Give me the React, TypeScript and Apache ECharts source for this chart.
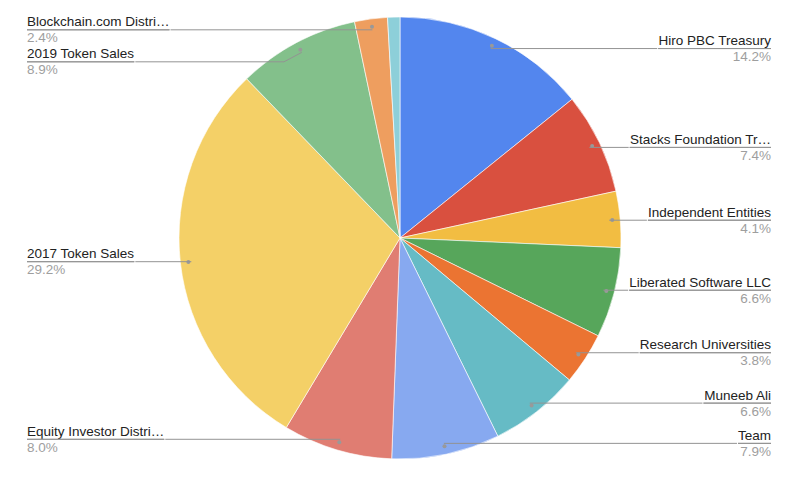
import React, { useEffect, useRef } from "react";
import * as echarts from "echarts";

const categories = [
  "Hiro PBC Treasury",
  "Stacks Foundation Tr…",
  "Independent Entities",
  "Liberated Software LLC",
  "Research Universities",
  "Muneeb Ali",
  "Team",
  "Equity Investor Distri…",
  "2017 Token Sales",
  "2019 Token Sales",
  "Blockchain.com Distri…",
  "Other",
];
const values = [14.2, 7.4, 4.1, 6.6, 3.8, 6.6, 7.9, 8.0, 29.2, 8.9, 2.4, 0.9];
const colors = [
  "#5386EE",
  "#D9503F",
  "#F2BD42",
  "#57A65B",
  "#EB7432",
  "#66BBC5",
  "#87A9F0",
  "#E07D72",
  "#F4D067",
  "#83C08B",
  "#EE9E5F",
  "#8DCFD9",
];
const labelled = [true, true, true, true, true, true, true, true, true, true, true, false];
const rightSide = [true, true, true, true, true, true, true, false, false, false, false, false];

const FONT = "'Liberation Sans', Arial, Helvetica, sans-serif";
const LINE = "#939393";

export default function App() {
  const ref = useRef<HTMLDivElement>(null);
  useEffect(() => {
    if (!ref.current) return;
    const chart = echarts.init(ref.current, undefined, { renderer: "svg" });
    const center = [400, 238];

    const mainData = categories.map((name, i) => ({
      name,
      value: values[i],
      itemStyle: { color: colors[i] },
    }));

    const dotData = categories.map((name, i) => ({
      name,
      value: values[i],
      label: { show: labelled[i] },
    }));

    const labelData = categories.map((name, i) => ({
      name,
      value: values[i],
      label: { show: labelled[i], edgeDistance: rightSide[i] ? 35 : 27 },
      labelLine: { show: labelled[i] },
    }));

    chart.setOption({
      animation: false,
      backgroundColor: "#ffffff",
      series: [
        {
          type: "pie",
          center,
          radius: 221,
          startAngle: 90,
          clockwise: true,
          silent: true,
          data: mainData,
          itemStyle: { borderColor: "#ffffff", borderWidth: 0.6 },
          label: { show: false },
          labelLine: { show: false },
        },
        {
          type: "pie",
          center,
          radius: [200, 220],
          startAngle: 90,
          clockwise: true,
          silent: true,
          z: 3,
          data: dotData,
          itemStyle: { color: "rgba(0,0,0,0)", borderWidth: 0 },
          label: {
            position: "inside",
            formatter: "{dot|}",
            rich: {
              dot: {
                width: 4,
                height: 4,
                borderRadius: 2,
                backgroundColor: "#999999",
              },
            },
          },
          labelLine: { show: false },
        },
        {
          type: "pie",
          center,
          radius: 210,
          startAngle: 90,
          clockwise: true,
          silent: true,
          z: 4,
          data: labelData,
          itemStyle: { color: "rgba(0,0,0,0)", borderWidth: 0 },
          label: {
            position: "outside",
            alignTo: "edge",
            distanceToLabelLine: 0,
            formatter: (p: any) =>
              `{name|${p.name}}\n{hr|}\n{per|${Number(p.value).toFixed(1)}%}`,
            rich: {
              name: {
                fontSize: 13.5,
                color: "#222222",
                fontFamily: FONT,
                lineHeight: 16,
              },
              hr: {
                width: "100%",
                height: 0,
                borderWidth: 1,
                borderColor: LINE,
              },
              per: {
                fontSize: 13.5,
                color: "#9e9e9e",
                fontFamily: FONT,
                lineHeight: 16,
              },
            },
          },
          labelLine: {
            length: 0,
            length2: 10,
            lineStyle: { color: LINE, width: 1 },
          },
        },
      ],
    });
    return () => chart.dispose();
  }, []);

  return (
    <div
      ref={ref}
      style={{ position: "fixed", left: 0, top: 0, width: 806, height: 490 }}
    />
  );
}
